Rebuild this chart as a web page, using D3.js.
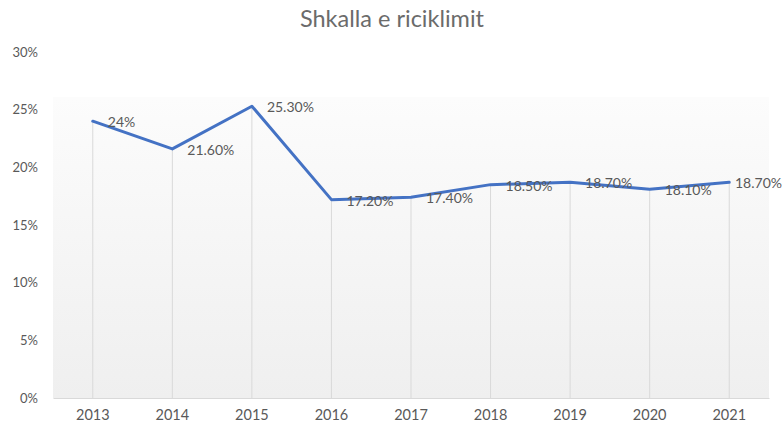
<!DOCTYPE html>
<html>
<head>
<meta charset="utf-8">
<script src="https://cdn.jsdelivr.net/npm/d3@7"></script>
<style>
  html, body { margin: 0; padding: 0; background: #fff; }
  svg { display: block; }
  text { font-family: Lato, "Open Sans", sans-serif; fill: #595959; }
</style>
</head>
<body>
<svg id="chart" width="783" height="429"></svg>
<script>
// Recycling rate by year
const years = ["2013", "2014", "2015", "2016", "2017", "2018", "2019", "2020", "2021"];
const rates = [24, 21.6, 25.3, 17.2, 17.4, 18.5, 18.7, 18.1, 18.7];
const valueLabels = ["24%", "21.60%", "25.30%", "17.20%", "17.40%", "18.50%", "18.70%", "18.10%", "18.70%"];
const yTicks = [0, 5, 10, 15, 20, 25, 30];
const title = "Shkalla e riciklimit";

const W = 783;
const svg = d3.select("#chart");
const plot = { left: 53, right: 769, top: 52, bottom: 398 };

const x = d3.scaleBand().domain(years).range([plot.left, plot.right]);
const y = d3.scaleLinear().domain([0, 30]).range([plot.bottom, plot.top]);
const cx = d => x(d) + x.bandwidth() / 2;

// Plot-area background: soft vertical gradient
const defs = svg.append("defs");
const grad = defs.append("linearGradient")
  .attr("id", "plotBg").attr("x1", 0).attr("y1", 0).attr("x2", 0).attr("y2", 1);
grad.append("stop").attr("offset", "0%").attr("stop-color", "#fcfcfc");
grad.append("stop").attr("offset", "100%").attr("stop-color", "#efefef");

svg.append("rect")
  .attr("x", plot.left).attr("y", 97)
  .attr("width", plot.right - plot.left)
  .attr("height", plot.bottom - 97)
  .attr("fill", "url(#plotBg)");

// Title
svg.append("text")
  .attr("x", 392).attr("y", 27)
  .attr("text-anchor", "middle")
  .style("font-size", "23.5px")
  .style("fill", "#6b6b6b")
  .text(title);

// Y axis labels
const yAxis = d3.axisLeft(y).tickValues(yTicks).tickFormat(d => d + "%").tickSize(0).tickPadding(0);
const gy = svg.append("g").attr("transform", "translate(38,0)").call(yAxis);
gy.select(".domain").remove();
gy.selectAll("text").style("font-size", "13px").style("font-family", "Lato, sans-serif").attr("fill", "#595959");

// X axis labels and baseline
const xAxis = d3.axisBottom(x).tickSize(0).tickPadding(12);
const gx = svg.append("g").attr("transform", `translate(0,${plot.bottom})`).call(xAxis);
gx.select(".domain").attr("stroke", "#d9d9d9");
gx.selectAll("text").style("font-size", "14.5px").style("font-family", "Lato, sans-serif").attr("fill", "#595959");

// Drop lines from each point to the baseline
svg.append("g").selectAll("line")
  .data(years)
  .join("line")
  .attr("x1", d => cx(d)).attr("x2", d => cx(d))
  .attr("y1", (d, i) => y(rates[i]))
  .attr("y2", plot.bottom)
  .attr("stroke", "#d9d9d9")
  .attr("stroke-width", 1);

// Series line
const line = d3.line()
  .x((d, i) => cx(years[i]))
  .y(d => y(d));

svg.append("path")
  .datum(rates)
  .attr("d", line)
  .attr("fill", "none")
  .attr("stroke", "#4472c4")
  .attr("stroke-width", 3)
  .attr("stroke-linejoin", "round")
  .attr("stroke-linecap", "round");

// Data labels, right of each point; kept inside the canvas
svg.append("g").selectAll("text")
  .data(rates)
  .join("text")
  .attr("x", (d, i) => cx(years[i]) + 15)
  .attr("y", d => y(d) + 1)
  .attr("dy", "0.35em")
  .style("font-size", "14px")
  .text((d, i) => valueLabels[i])
  .each(function () {
    const t = d3.select(this);
    const w = this.getComputedTextLength();
    const x0 = +t.attr("x");
    if (x0 + w > W - 1) t.attr("x", W - 1 - w);
  });
</script>
</body>
</html>
